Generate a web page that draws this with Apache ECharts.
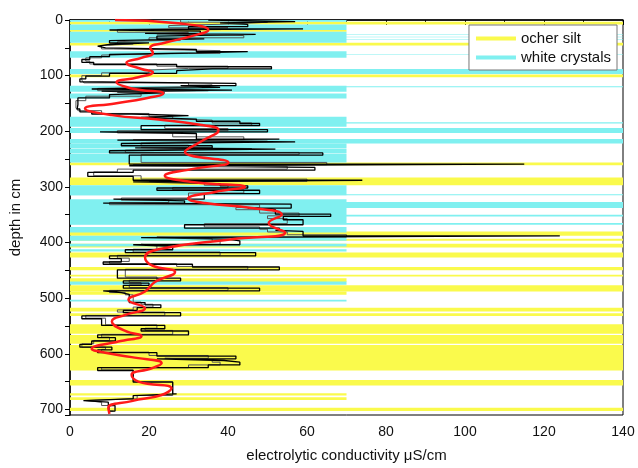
<!DOCTYPE html>
<html lang="en">
<head>
  <meta charset="UTF-8" />
  <title>Conductivity profile</title>
  <script src="https://cdn.jsdelivr.net/npm/echarts@6/dist/echarts.min.js"></script>
  <style>
    body { margin: 0; padding: 0; background: #fff; }
    #main { width: 638px; height: 468px; }
  </style>
</head>
<body>
  <div id="main"></div>
  <script>
    // layer bands: [depth from, depth to, conductivity extent]
    const ocherSilt = [
      [3, 8, 140], [18, 21, 70], [41, 46, 140], [98, 103, 140], [256, 261, 140],
      [283, 297, 140], [380, 388, 140], [393, 397, 140], [402, 409, 140], [418, 427, 140],
      [444, 450, 140], [458, 461, 140], [464, 471, 70], [477, 488, 140], [488, 494, 70],
      [517, 524, 140], [527, 532, 140], [547, 564, 140], [566, 582, 140], [584, 630, 140],
      [647, 657, 140], [671, 675, 70], [678, 683, 70], [697, 703, 140]
    ];
    const whiteCrystals = [
      [0, 3, 70], [8, 18, 70], [21, 41, 70], [25, 26, 140], [30, 31, 140], [35, 36, 140],
      [56, 68, 70], [61, 62, 140], [88, 97, 140], [118, 129, 70], [119, 121, 140],
      [132, 141, 70], [174, 192, 70], [184, 186, 140], [194, 203, 140], [214, 222, 140],
      [222, 231, 70], [232, 239, 70], [240, 256, 70], [297, 315, 70], [313, 315, 140],
      [322, 367, 70], [327, 338, 140], [350, 353, 140], [365, 368, 140], [372, 382, 70],
      [388, 397, 70], [402, 407, 70], [412, 416, 70], [470, 476, 70], [503, 506, 70]
    ];

    // measured profiles: [conductivity, depth]
    const profileA = [
      [35, 0], [57, 3], [38, 5], [45, 8], [30, 12], [59, 16], [10, 18], [33, 20], [19, 24],
      [47, 26], [22, 29], [34, 34], [10, 37], [20, 41], [10, 44], [7, 47], [9, 50], [32, 53],
      [45, 57], [32, 59], [10, 62], [5, 66], [3, 71], [6, 76], [27, 80], [51, 84], [36, 88],
      [27, 91], [10, 96], [4, 101], [2.5, 106], [3, 111], [42, 114], [28, 118], [38, 121],
      [5.5, 124], [41, 126], [8, 128], [24, 131], [10, 134], [2, 140], [1.8, 152], [2.5, 160],
      [5.5, 165], [15.6, 169], [30, 172], [18, 175], [32, 178], [43, 182], [48, 186], [18, 190],
      [50, 197], [7.6, 201], [32, 204], [53, 214], [12, 216], [57, 219], [13, 222], [36, 226],
      [16.5, 230], [52, 232], [10, 235], [64, 239], [15, 243], [115, 259], [15, 262], [62, 265],
      [16, 270], [4.5, 274], [16, 281], [74, 288], [16, 291], [38, 294], [45, 298], [22, 302],
      [48, 306], [34, 312], [11, 322], [29, 325], [8.4, 329], [56, 331], [45, 338], [52, 341],
      [66, 349], [54, 353], [59, 359], [29, 368], [53, 374], [52, 378], [59, 380], [124, 388],
      [18, 391], [40, 394], [43, 397], [16, 404], [26, 407], [14, 413], [47, 418], [10, 424],
      [13, 429], [8.4, 435], [31, 439], [53, 444], [12, 449], [28, 464], [13.5, 469], [20, 473],
      [13.5, 477], [48, 482], [8.4, 487], [13, 490], [15, 493], [19, 508], [23, 512], [17, 517],
      [13.5, 522], [28, 526], [3, 532], [8, 537], [24, 549], [18, 555], [30, 559], [7, 566],
      [11.5, 571], [5.5, 577], [2.5, 583], [10.6, 588], [7, 593], [22, 598], [42, 604], [22, 609],
      [39, 612], [43, 615], [35, 620], [7, 625], [16, 630], [26, 651], [27, 672], [16, 675],
      [15, 681], [3.4, 684], [9.7, 687], [11.4, 693], [10, 703]
    ];
    const profileB = [
      [28, 0], [50, 4], [42, 7], [25, 10], [40, 14], [12, 17], [30, 22], [22, 25], [44, 28],
      [20, 32], [28, 36], [12, 39], [16, 43], [8, 46], [11, 52], [38, 55], [30, 60], [8, 63],
      [4, 68], [5, 74], [22, 79], [40, 83], [30, 87], [20, 90], [8, 95], [3, 100], [3.5, 108],
      [30, 113], [36, 117], [28, 120], [7, 123], [35, 127], [12, 130], [18, 133], [4, 137],
      [1.5, 145], [2, 158], [8, 163], [20, 168], [26, 173], [22, 177], [36, 180], [46, 185],
      [24, 189], [40, 195], [12, 199], [26, 203], [44, 210], [16, 215], [50, 218], [18, 221],
      [30, 225], [18, 229], [46, 231], [14, 234], [58, 238], [18, 242], [65, 256], [16, 260],
      [55, 263], [12, 268], [6, 273], [18, 280], [60, 286], [20, 290], [34, 293], [40, 297],
      [26, 301], [44, 305], [30, 311], [13, 320], [25, 324], [10, 328], [48, 332], [42, 337],
      [48, 341], [58, 347], [50, 352], [55, 357], [34, 366], [48, 372], [50, 376], [55, 381],
      [70, 386], [22, 390], [36, 393], [38, 398], [18, 403], [22, 406], [16, 412], [38, 417],
      [12, 423], [15, 428], [10, 434], [27, 438], [45, 443], [14, 448], [22, 462], [15, 468],
      [18, 472], [15, 476], [40, 481], [10, 486], [14, 490], [16, 494], [18, 507], [21, 511],
      [16, 516], [12, 521], [24, 525], [4, 531], [9, 536], [22, 548], [19, 554], [26, 558],
      [8, 565], [10, 570], [6, 576], [3, 582], [9, 588], [8, 592], [20, 597], [35, 603],
      [24, 608], [36, 611], [38, 615], [30, 620], [8, 625], [16, 629], [26, 650], [26, 671],
      [17, 675], [16, 681], [4, 684], [8, 687], [10, 693], [11, 703]
    ];
    // smoothed profile
    const smoothed = [
      [11.4, 0], [27.4, 6], [35, 18], [30.8, 29], [24, 41], [20.3, 50], [21, 59], [18.1, 68],
      [14.3, 77], [18.1, 88], [21, 94], [17.3, 103], [11.8, 112], [15.6, 123], [23.6, 132],
      [19, 141], [11.4, 150], [3.8, 159], [10.6, 171], [22.4, 179], [32.5, 188], [37.6, 198],
      [33.3, 218], [29.1, 237], [40.1, 256], [30.8, 268], [24, 280], [30.8, 291],
      [44.3, 300], [36.7, 309], [29.9, 321], [34.2, 329], [46, 338], [53.6, 350], [50.3, 365],
      [54.5, 382], [41, 394], [22.4, 412], [19, 427], [20.7, 441], [26.6, 453], [21.5, 471],
      [19, 488], [14.8, 503], [19, 518], [14, 530], [10.6, 542], [14, 559], [18.1, 568],
      [12.2, 578], [5.5, 591], [8.9, 598], [15.6, 606], [23.2, 617], [20.7, 626], [15.6, 638],
      [17.3, 650], [25.7, 662], [23.2, 674], [15.6, 685], [9.7, 697], [10, 708]
    ];

    const YELLOW = '#fafa4c';
    const CYAN = '#80f0f0';
    const font = "'Liberation Sans', Arial, sans-serif";

    function bandItem(params, api) {
      const a = api.coord([0, api.value(0)]);
      const b = api.coord([api.value(2), api.value(1)]);
      return {
        type: 'rect',
        shape: { x: a[0], y: a[1], width: b[0] - a[0], height: b[1] - a[1] },
        style: { fill: api.visual('color') }
      };
    }

    const chart = echarts.init(document.getElementById('main'));
    chart.setOption({
      animation: false,
      backgroundColor: '#fff',
      textStyle: { fontFamily: font },
      grid: {
        left: 70, right: 15, top: 20, bottom: 46,
        show: true, borderColor: '#000', borderWidth: 1
      },
      legend: {
        orient: 'vertical',
        right: 21, top: 25,
        padding: [6, 6, 5, 7],
        itemGap: 4,
        itemWidth: 40, itemHeight: 4,
        icon: 'rect',
        borderColor: '#777', borderWidth: 1,
        backgroundColor: '#fff',
        textStyle: { fontSize: 15, color: '#111', fontFamily: font },
        data: [
          { name: 'ocher silt', itemStyle: { color: YELLOW } },
          { name: 'white crystals', itemStyle: { color: CYAN } }
        ]
      },
      xAxis: {
        type: 'value',
        min: 0, max: 140, interval: 20,
        name: 'electrolytic conductivity \u03bcS/cm',
        nameLocation: 'middle',
        nameGap: 33,
        nameTextStyle: { fontSize: 15, color: '#111' },
        axisLine: { lineStyle: { color: '#000', width: 1.5 } },
        axisTick: { inside: false, length: 5, lineStyle: { color: '#000' } },
        minorTick: { show: true, splitNumber: 2, length: 4, lineStyle: { color: '#000' } },
        axisLabel: { fontSize: 14, color: '#111', margin: 10 },
        splitLine: { show: false }
      },
      yAxis: {
        type: 'value',
        inverse: true,
        min: 0, max: 710, interval: 50,
        name: 'depth in cm',
        nameLocation: 'middle',
        nameGap: 47,
        nameTextStyle: { fontSize: 15, color: '#111' },
        axisLine: { lineStyle: { color: '#000', width: 1.5 } },
        axisTick: { length: 5, lineStyle: { color: '#000' } },
        axisLabel: {
          fontSize: 14, color: '#111', margin: 7,
          formatter: v => (v % 100 === 0 ? v : '')
        },
        splitLine: { show: false }
      },
      series: [
        {
          name: 'ocher silt', type: 'custom', renderItem: bandItem,
          itemStyle: { color: YELLOW }, encode: { x: 2, y: [0, 1] },
          data: ocherSilt, z: 1
        },
        {
          name: 'white crystals', type: 'custom', renderItem: bandItem,
          itemStyle: { color: CYAN }, encode: { x: 2, y: [0, 1] },
          data: whiteCrystals, z: 1
        },
        {
          name: 'profile B', type: 'line', step: 'start', symbol: 'none',
          lineStyle: { color: '#555', width: 1 }, data: profileB, z: 2
        },
        {
          name: 'profile A', type: 'line', step: 'start', symbol: 'none',
          lineStyle: { color: '#000', width: 1.3 }, data: profileA, z: 3
        },
        {
          name: 'smoothed', type: 'line', smooth: 0.5, symbol: 'none',
          lineStyle: { color: '#ff1a1a', width: 2.5 }, data: smoothed, z: 4
        }
      ]
    });
  </script>
</body>
</html>
